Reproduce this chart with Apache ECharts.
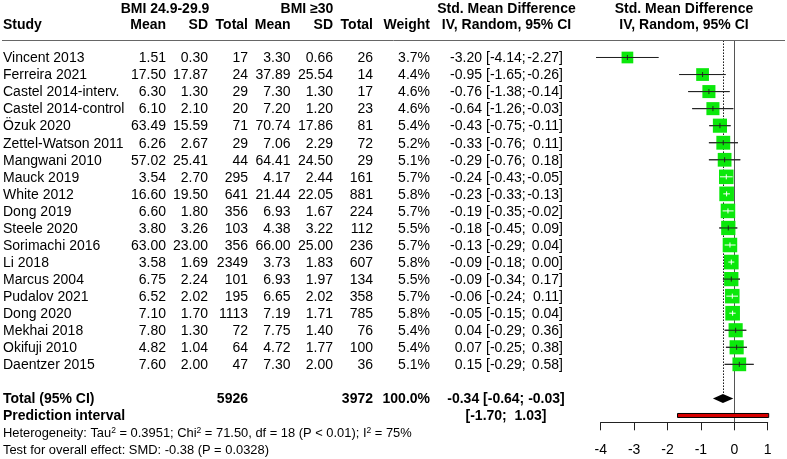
<!DOCTYPE html>
<html><head><meta charset="utf-8">
<script src="https://cdn.jsdelivr.net/npm/echarts@6/dist/echarts.min.js"></script>
<style>html,body{margin:0;padding:0;background:#fff}#c{width:787px;height:459px}</style>
</head><body><div id="c"></div>
<script>
const studies = ['Vincent 2013','Ferreira 2021','Castel 2014-interv.','Castel 2014-control','Özuk 2020','Zettel-Watson 2011','Mangwani 2010','Mauck 2019','White 2012','Dong 2019','Steele 2020','Sorimachi 2016','Li 2018','Marcus 2004','Pudalov 2021','Dong 2020','Mekhai 2018','Okifuji 2010','Daentzer 2015'];
const mean1 = [1.51,17.50,6.30,6.10,63.49,6.26,57.02,3.54,16.60,6.60,3.80,63.00,3.58,6.75,6.52,7.10,7.80,4.82,7.60];
const sd1 = [0.30,17.87,1.30,2.10,15.59,2.67,25.41,2.70,19.50,1.80,3.26,23.00,1.69,2.24,2.02,1.70,1.30,1.04,2.00];
const n1 = [17,24,29,20,71,29,44,295,641,356,103,356,2349,101,195,1113,72,64,47];
const mean2 = [3.30,37.89,7.30,7.20,70.74,7.06,64.41,4.17,21.44,6.93,4.38,66.00,3.73,6.93,6.65,7.19,7.75,4.72,7.30];
const sd2 = [0.66,25.54,1.30,1.20,17.86,2.29,24.50,2.44,22.05,1.67,3.22,25.00,1.83,1.97,2.02,1.71,1.40,1.77,2.00];
const n2 = [26,14,17,23,81,72,29,161,881,224,112,236,607,134,358,785,76,100,36];
const weight = [3.7,4.4,4.6,4.6,5.4,5.2,5.1,5.7,5.8,5.7,5.5,5.7,5.8,5.5,5.7,5.8,5.4,5.4,5.1];
const smd = [-3.20,-0.95,-0.76,-0.64,-0.43,-0.33,-0.29,-0.24,-0.23,-0.19,-0.18,-0.13,-0.09,-0.09,-0.06,-0.05,0.04,0.07,0.15];
const lower = [-4.14,-1.65,-1.38,-1.26,-0.75,-0.76,-0.76,-0.43,-0.33,-0.35,-0.45,-0.29,-0.18,-0.34,-0.24,-0.15,-0.29,-0.25,-0.29];
const upper = [-2.27,-0.26,-0.14,-0.03,-0.11,0.11,0.18,-0.05,-0.13,-0.02,0.09,0.04,0.00,0.17,0.11,0.04,0.36,0.38,0.58];
const totalN1 = 5926, totalN2 = 3972, totalWeight = '100.0%';
const pooled = [-0.34, -0.64, -0.03];
const predInt = [-1.70, 1.03];
const xTicks = [-4, -3, -2, -1, 0, 1];
const hetText = '{n|Heterogeneity: Tau}{s|2}{n| = 0.3951; Chi}{s|2}{n| = 71.50, df = 18 (P < 0.01); I}{s|2}{n| = 75%}';
const testText = 'Test for overall effect: SMD: -0.38 (P = 0.0328)';

const FONT = "'Liberation Sans', Arial, sans-serif";
const rows = studies.map((_, i) => i);
const ROW_H1 = -2.9, ROW_H2 = -1.95;
const ROW_TOTAL = 20, ROW_PRED = 21, ROW_HET = 22, ROW_TEST = 23;
const TXT_DY = 0.9;

function textSeries(texts, rowIdx, x, align, opts) {
  opts = opts || {};
  return {
    type: 'custom', xAxisIndex: 0, yAxisIndex: 0, silent: true, animation: false,
    data: texts.map((t, k) => [x, rowIdx[k]]),
    renderItem: (params, api) => {
      const p = api.coord([api.value(0), api.value(1)]);
      return { type: 'text', x: p[0], y: p[1] + TXT_DY, style: {
        text: texts[params.dataIndex], fill: '#000', fontSize: opts.size || 14,
        fontWeight: opts.bold ? 'bold' : 'normal', fontFamily: FONT,
        align: align, verticalAlign: 'middle', rich: opts.rich } };
    }
  };
}
const f2 = v => v.toFixed(2);
const series = [];
// headers
series.push(textSeries(['BMI 24.9-29.9', 'BMI \u226530', 'Std. Mean Difference', 'Std. Mean Difference'], [ROW_H1, ROW_H1, ROW_H1, ROW_H1], 0, 'center', {bold: true}));
series[series.length-1].data = [[165, ROW_H1], [307, ROW_H1], [506.5, ROW_H1], [684, ROW_H1]];
series.push(textSeries(['IV, Random, 95% CI', 'IV, Random, 95% CI'], [ROW_H2, ROW_H2], 0, 'center', {bold: true}));
series[series.length-1].data = [[506.5, ROW_H2], [684, ROW_H2]];
series.push(textSeries(['Study'], [ROW_H2], 3, 'left', {bold: true}));
series.push(textSeries(['Mean', 'SD', 'Total', 'Mean', 'SD', 'Total', 'Weight'], [ROW_H2,ROW_H2,ROW_H2,ROW_H2,ROW_H2,ROW_H2,ROW_H2], 0, 'right', {bold: true}));
series[series.length-1].data = [[166,ROW_H2],[208,ROW_H2],[248,ROW_H2],[290.5,ROW_H2],[333,ROW_H2],[373,ROW_H2],[430,ROW_H2]];
// study rows
series.push(textSeries(studies, rows, 3, 'left'));
series.push(textSeries(mean1.map(f2), rows, 166, 'right'));
series.push(textSeries(sd1.map(f2), rows, 208, 'right'));
series.push(textSeries(n1.map(String), rows, 248, 'right'));
series.push(textSeries(mean2.map(f2), rows, 290.5, 'right'));
series.push(textSeries(sd2.map(f2), rows, 333, 'right'));
series.push(textSeries(n2.map(String), rows, 373, 'right'));
series.push(textSeries(weight.map(w => w.toFixed(1) + '%'), rows, 430, 'right'));
series.push(textSeries(smd.map(f2), rows, 482, 'right'));
series.push(textSeries(lower.map(v => '[' + f2(v) + ';'), rows, 486, 'left'));
series.push(textSeries(upper.map(v => f2(v) + ']'), rows, 563, 'right'));
// total & prediction
series.push(textSeries(['Total (95% CI)', 'Prediction interval'], [ROW_TOTAL, ROW_PRED], 3, 'left', {bold: true}));
series.push(textSeries([String(totalN1), String(totalN2), totalWeight], [ROW_TOTAL, ROW_TOTAL, ROW_TOTAL], 0, 'right', {bold: true}));
series[series.length-1].data = [[248, ROW_TOTAL], [373, ROW_TOTAL], [430, ROW_TOTAL]];
series.push(textSeries([f2(pooled[0]) + ' [' + f2(pooled[1]) + '; ' + f2(pooled[2]) + ']',
  '[' + f2(predInt[0]) + ';  ' + f2(predInt[1]) + ']'], [ROW_TOTAL, ROW_PRED], 506, 'center', {bold: true}));
// footnotes
const footRich = { n: {fontSize: 12.9, fontFamily: FONT, fill: '#000', lineHeight: 15},
                   s: {fontSize: 8.5, fontFamily: FONT, fill: '#000', lineHeight: 9, verticalAlign: 'top'} };
series.push(textSeries([hetText], [ROW_HET], 3, 'left', {size: 12.9, rich: footRich}));
series.push(textSeries([testText], [ROW_TEST], 3, 'left', {size: 12.9}));
// header rule
series.push({
  type: 'custom', xAxisIndex: 0, yAxisIndex: 0, silent: true, animation: false,
  data: [[2, 785, -1]],
  renderItem: (params, api) => {
    const a = api.coord([api.value(0), api.value(2)]), b = api.coord([api.value(1), api.value(2)]);
    return { type: 'line', shape: {x1: a[0], y1: Math.round(a[1]) + 0.5, x2: b[0], y2: Math.round(a[1]) + 0.5}, style: {stroke: '#666', lineWidth: 1} };
  }
});
// forest plot: reference lines
series.push({
  type: 'custom', xAxisIndex: 1, yAxisIndex: 1, silent: true, animation: false, z: 1,
  data: [[0, -1, 21.4, 0], [pooled[0], -1, ROW_TOTAL - 0.27, 1]],
  renderItem: (params, api) => {
    const a = api.coord([api.value(0), api.value(1)]), b = api.coord([api.value(0), api.value(2)]);
    const dotted = api.value(3) === 1;
    const x = Math.round(a[0]) + 0.5;
    return { type: 'line', shape: {x1: x, y1: a[1], x2: x, y2: b[1]},
      style: {stroke: dotted ? '#111' : '#555', lineWidth: 1, lineDash: dotted ? [1.5, 1.5] : null} };
  }
});
// study squares and CIs
series.push({
  type: 'custom', xAxisIndex: 1, yAxisIndex: 1, silent: true, animation: false, z: 3, clip: false,
  data: smd.map((v, i) => [v, lower[i], upper[i], i, weight[i]]),
  renderItem: (params, api) => {
    const y = api.coord([0, api.value(3)])[1];
    const xe = api.coord([api.value(0), 0])[0];
    const xl = api.coord([api.value(1), 0])[0];
    const xh = api.coord([api.value(2), 0])[0];
    const side = 6.08 * Math.sqrt(api.value(4));
    const inside = (xh - xl) < side;
    const col = inside ? '#fff' : '#222';
    return { type: 'group', children: [
      { type: 'line', shape: {x1: xl, y1: y, x2: xh, y2: y}, style: {stroke: '#333', lineWidth: 1} },
      { type: 'rect', shape: {x: xe - side / 2, y: y - side / 2, width: side, height: side}, style: {fill: '#0be80b'} },
      { type: 'line', shape: {x1: xl, y1: y, x2: xh, y2: y}, style: {stroke: col, lineWidth: 1} },
      { type: 'line', shape: {x1: xe, y1: y - 2.5, x2: xe, y2: y + 2.5}, style: {stroke: col, lineWidth: 1} }
    ]};
  }
});
// pooled diamond and prediction interval
series.push({
  type: 'custom', xAxisIndex: 1, yAxisIndex: 1, silent: true, animation: false, z: 4, clip: false,
  data: [[pooled[0], pooled[1], pooled[2], ROW_TOTAL]],
  renderItem: (params, api) => {
    const y = api.coord([0, api.value(3)])[1];
    const xe = api.coord([api.value(0), 0])[0], xl = api.coord([api.value(1), 0])[0], xh = api.coord([api.value(2), 0])[0];
    return { type: 'polygon', shape: {points: [[xl, y], [xe, y - 4.5], [xh, y], [xe, y + 4.5]]}, style: {fill: '#000'} };
  }
});
series.push({
  type: 'custom', xAxisIndex: 1, yAxisIndex: 1, silent: true, animation: false, z: 4, clip: false,
  data: [[predInt[0], predInt[1], ROW_PRED]],
  renderItem: (params, api) => {
    const y = api.coord([0, api.value(2)])[1];
    const xl = api.coord([api.value(0), 0])[0], xh = api.coord([api.value(1), 0])[0];
    return { type: 'rect', shape: {x: xl, y: y - 2, width: xh - xl, height: 4}, style: {fill: '#d80000', stroke: '#000', lineWidth: 1} };
  }
});

const chart = echarts.init(document.getElementById('c'), null, {renderer: 'canvas'});
chart.setOption({
  animation: false,
  backgroundColor: '#fff',
  grid: [
    {left: 0, top: 0, width: 787, height: 459},
    {left: 600.7, top: 40.45, width: 167, height: 381.85}
  ],
  xAxis: [
    {gridIndex: 0, type: 'value', min: 0, max: 787, show: false},
    {gridIndex: 1, type: 'value', min: xTicks[0], max: xTicks[xTicks.length - 1], interval: 1,
     axisLine: {show: true, onZero: false, lineStyle: {color: '#222', width: 1}},
     axisTick: {show: true, length: 8, lineStyle: {color: '#222'}},
     axisLabel: {color: '#000', fontSize: 14, fontFamily: FONT, margin: 21},
     splitLine: {show: false}}
  ],
  yAxis: [
    {gridIndex: 0, type: 'value', inverse: true, min: -57.5 / 17.05, max: (459 - 57.5) / 17.05, show: false},
    {gridIndex: 1, type: 'value', inverse: true, min: -1, max: 21.4, show: false}
  ],
  series: series
});
</script>
</body></html>
